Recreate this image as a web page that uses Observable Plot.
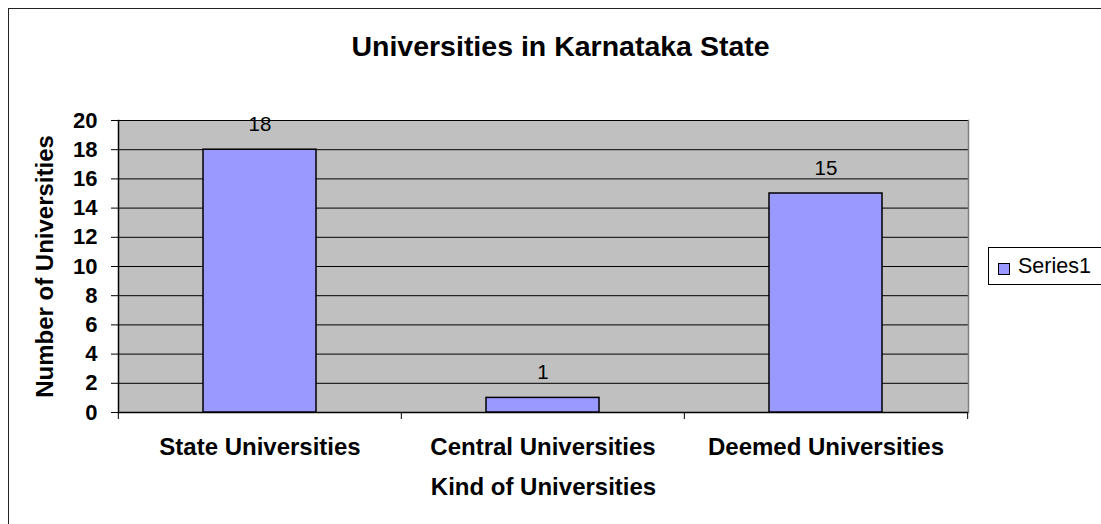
<!DOCTYPE html>
<html>
<head>
<meta charset="utf-8">
<script src="https://cdn.jsdelivr.net/npm/d3@7"></script>
<script src="https://cdn.jsdelivr.net/npm/@observablehq/plot@0.6"></script>
<style>
  html, body { margin: 0; padding: 0; background: #fff; overflow: hidden; }
  #wrap { position: relative; width: 1101px; height: 524px; overflow: hidden; font-family: "Liberation Sans", Arial, sans-serif; }
  #border { position: absolute; left: 8px; top: 8px; width: 1300px; height: 700px; border: 1.5px solid #222; box-sizing: border-box; }
  #chart { position: absolute; left: 0; top: 0; }
  #legend { position: absolute; left: 988px; top: 247px; width: 130px; height: 38px; border: 1px solid #000; box-sizing: border-box; background: #fff; }
  #legend .sw { position: absolute; left: 9px; top: 15px; width: 12px; height: 12px; background: #9999FF; border: 1px solid #000; box-sizing: border-box; }
  #legend .lb { position: absolute; left: 29px; top: 6px; font-size: 21.5px; line-height: 24px; color: #000; }
</style>
</head>
<body>
<div id="wrap">
  <div id="border"></div>
  <div id="chart"></div>
  <div id="legend"><div class="sw"></div><div class="lb"></div></div>
</div>
<script>
const chartTitle = "Universities in Karnataka State";
const xTitle = "Kind of Universities";
const yTitle = "Number of Universities";
const categories = ["State Universities", "Central Universities", "Deemed Universities"];
const counts = [18, 1, 15];
const yTicks = [0, 2, 4, 6, 8, 10, 12, 14, 16, 18, 20];
const seriesName = "Series1";

const data = categories.map((c, i) => ({category: c, value: counts[i]}));

const W = 1101, H = 524;
const mL = 118, mR = 133, mT = 120, mB = 112;
const step = (W - mL - mR) / categories.length;

const chart = Plot.plot({
  width: W,
  height: H,
  marginLeft: mL,
  marginRight: mR,
  marginTop: mT,
  marginBottom: mB,
  style: {fontFamily: "'Liberation Sans', Arial, sans-serif", fontSize: "21px", color: "#000", background: "transparent", overflow: "visible"},
  x: {domain: categories, paddingInner: 0.6, paddingOuter: 0.3, axis: null},
  y: {domain: [0, 20], axis: null},
  marks: [
    Plot.frame({fill: "#C0C0C0", stroke: null}),
    Plot.gridY(yTicks.filter(d => d > 0), {stroke: "#000", strokeOpacity: 1, strokeWidth: 1}),
    Plot.frame({anchor: "right", stroke: "#808080", strokeWidth: 1.5}),
    Plot.frame({anchor: "left", stroke: "#000", strokeWidth: 1.5}),
    Plot.ruleY([0], {stroke: "#000", strokeWidth: 1.5}),
    Plot.barY(data, {x: "category", y: "value", fill: "#9999FF", stroke: "#000", strokeWidth: 1.5}),
    Plot.text(data, {x: "category", y: "value", text: d => String(d.value), dy: -25, fontSize: 20.5, fill: "#000"}),
    Plot.axisY(yTicks, {tickSize: 7, tickPadding: 14, fontSize: 22, fontWeight: "bold", label: null, stroke: "#000", fill: "#000"}),
    Plot.axisX({tickSize: 7, tickFormat: () => "", dx: -step / 2, label: null, stroke: "#000"}),
    Plot.axisX([categories[categories.length - 1]], {tickSize: 7, tickFormat: () => "", dx: step / 2, label: null, stroke: "#000"}),
    Plot.axisX({tickSize: 0, tickPadding: 25, fontSize: 24, fontWeight: "bold", label: null, fill: "#000"}),
    Plot.text([xTitle], {text: d => d, frameAnchor: "bottom", lineAnchor: "middle", textAnchor: "middle", dy: 75, fontSize: 24, fontWeight: "bold", fill: "#000"}),
    Plot.text([yTitle], {text: d => d, frameAnchor: "left", lineAnchor: "middle", textAnchor: "middle", dx: -73, rotate: -90, fontSize: 24, fontWeight: "bold", fill: "#000"}),
    Plot.text([chartTitle], {text: d => d, frameAnchor: "top", lineAnchor: "middle", textAnchor: "middle", dy: -74, dx: 17, fontSize: 28.5, fontWeight: "bold", fill: "#000"})
  ]
});
document.getElementById("chart").appendChild(chart);
document.querySelector("#legend .lb").textContent = seriesName;
</script>
</body>
</html>
